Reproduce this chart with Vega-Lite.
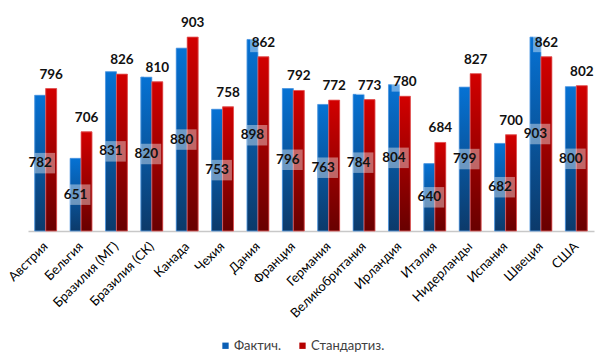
{
  "$schema": "https://vega.github.io/schema/vega-lite/v6.json",
  "width": 566,
  "height": 231,
  "autosize": "none",
  "padding": {"left": 28, "top": 0, "right": 15, "bottom": 128},
  "config": {"view": {"stroke": null}, "font": "Lato"},
  "data": {"values": [
    {"country": "Австрия", "series": "Фактич.", "value": 782},
    {"country": "Австрия", "series": "Стандартиз.", "value": 796},
    {"country": "Бельгия", "series": "Фактич.", "value": 651},
    {"country": "Бельгия", "series": "Стандартиз.", "value": 706},
    {"country": "Бразилия (МГ)", "series": "Фактич.", "value": 831},
    {"country": "Бразилия (МГ)", "series": "Стандартиз.", "value": 826},
    {"country": "Бразилия (СК)", "series": "Фактич.", "value": 820},
    {"country": "Бразилия (СК)", "series": "Стандартиз.", "value": 810},
    {"country": "Канада", "series": "Фактич.", "value": 880},
    {"country": "Канада", "series": "Стандартиз.", "value": 903},
    {"country": "Чехия", "series": "Фактич.", "value": 753},
    {"country": "Чехия", "series": "Стандартиз.", "value": 758},
    {"country": "Дания", "series": "Фактич.", "value": 898},
    {"country": "Дания", "series": "Стандартиз.", "value": 862},
    {"country": "Франция", "series": "Фактич.", "value": 796},
    {"country": "Франция", "series": "Стандартиз.", "value": 792},
    {"country": "Германия", "series": "Фактич.", "value": 763},
    {"country": "Германия", "series": "Стандартиз.", "value": 772},
    {"country": "Великобритания", "series": "Фактич.", "value": 784},
    {"country": "Великобритания", "series": "Стандартиз.", "value": 773},
    {"country": "Ирландия", "series": "Фактич.", "value": 804},
    {"country": "Ирландия", "series": "Стандартиз.", "value": 780},
    {"country": "Италия", "series": "Фактич.", "value": 640},
    {"country": "Италия", "series": "Стандартиз.", "value": 684},
    {"country": "Нидерланды", "series": "Фактич.", "value": 799},
    {"country": "Нидерланды", "series": "Стандартиз.", "value": 827},
    {"country": "Испания", "series": "Фактич.", "value": 682},
    {"country": "Испания", "series": "Стандартиз.", "value": 700},
    {"country": "Швеция", "series": "Фактич.", "value": 903},
    {"country": "Швеция", "series": "Стандартиз.", "value": 862},
    {"country": "США", "series": "Фактич.", "value": 800},
    {"country": "США", "series": "Стандартиз.", "value": 802}
  ]},
  "resolve": {"scale": {"y": "independent"}},
  "encoding": {
    "x": {"field": "country", "type": "nominal", "sort": null,
      "scale": {"paddingInner": 0.38, "paddingOuter": 0.19},
      "axis": {"title": null, "labelAngle": -45, "labelAlign": "right", "labelBaseline": "middle",
        "labelFontSize": 13, "labelColor": "#000000", "labelPadding": 13, "ticks": false,
        "domainColor": "#C8C8C8", "domainWidth": 1.5}},
    "xOffset": {"field": "series", "type": "nominal", "scale": {"domain": ["Фактич.", "Стандартиз."]}}
  },
  "layer": [
    {
      "mark": {"type": "bar"},
      "encoding": {
        "y": {"field": "value", "type": "quantitative", "scale": {"domain": [500, 980], "zero": false, "nice": false}, "axis": null},
        "y2": {"datum": 500},
        "color": {"field": "series", "type": "nominal",
          "scale": {"domain": ["Фактич.", "Стандартиз."], "range": ["#0A5FB5", "#B50000"]},
          "legend": {"title": null, "orient": "none", "direction": "horizontal", "legendX": 191, "legendY": 339,
            "symbolType": "square", "symbolSize": 40, "symbolStrokeWidth": 0, "labelFontSize": 13, "labelColor": "#404040",
            "columnPadding": 15, "padding": 0, "labelOffset": 2}}
      }
    },
    {
      "transform": [{"filter": "datum.series === 'Фактич.'"}],
      "mark": {"type": "bar", "stroke": "#5AA0E6", "strokeWidth": 0.8,
        "color": {"gradient": "linear", "x1": 0, "y1": 0, "x2": 0, "y2": 1,
          "stops": [{"offset": 0, "color": "#0672D4"}, {"offset": 1, "color": "#0C3A6A"}]}},
      "encoding": {
        "y": {"field": "value", "type": "quantitative", "scale": {"domain": [500, 980], "zero": false, "nice": false}, "axis": null},
        "y2": {"datum": 500}
      }
    },
    {
      "transform": [{"filter": "datum.series === 'Стандартиз.'"}],
      "mark": {"type": "bar", "stroke": "#E66060", "strokeWidth": 0.8,
        "color": {"gradient": "linear", "x1": 0, "y1": 0, "x2": 0, "y2": 1,
          "stops": [{"offset": 0, "color": "#D20000"}, {"offset": 1, "color": "#680000"}]}},
      "encoding": {
        "y": {"field": "value", "type": "quantitative", "scale": {"domain": [500, 980], "zero": false, "nice": false}, "axis": null},
        "y2": {"datum": 500}
      }
    },
    {
      "transform": [{"filter": "datum.series === 'Фактич.'"}],
      "mark": {"type": "point", "filled": true, "color": "#FFFFFF", "opacity": 0.4, "size": 420,
        "shape": "M -0.55 -1 L 1.45 -1 L 1.45 1 L -0.55 1 Z"},
      "encoding": {
        "y": {"field": "value", "type": "quantitative", "scale": {"domain": [500, 1460], "zero": false, "nice": false}, "axis": null}
      }
    },
    {
      "transform": [{"filter": "datum.series === 'Фактич.'"}],
      "mark": {"type": "text", "fontSize": 13.5, "fontWeight": "bold", "color": "#111111", "baseline": "middle"},
      "encoding": {
        "y": {"field": "value", "type": "quantitative", "scale": {"domain": [500, 1460], "zero": false, "nice": false}, "axis": null},
        "text": {"field": "value", "type": "quantitative"}
      }
    },
    {
      "transform": [{"filter": "datum.series === 'Стандартиз.'"}],
      "mark": {"type": "point", "filled": true, "color": "#FFFFFF", "opacity": 0.4, "size": 420,
        "shape": "M -1.3 -2.45 L 1.1 -2.45 L 1.1 -0.45 L -1.3 -0.45 Z"},
      "encoding": {
        "y": {"field": "value", "type": "quantitative", "scale": {"domain": [500, 980], "zero": false, "nice": false}, "axis": null}
      }
    },
    {
      "transform": [{"filter": "datum.series === 'Стандартиз.'"}],
      "mark": {"type": "text", "fontSize": 13.5, "fontWeight": "bold", "color": "#111111", "baseline": "middle", "dy": -14},
      "encoding": {
        "y": {"field": "value", "type": "quantitative", "scale": {"domain": [500, 980], "zero": false, "nice": false}, "axis": null},
        "text": {"field": "value", "type": "quantitative"}
      }
    }
  ]
}
